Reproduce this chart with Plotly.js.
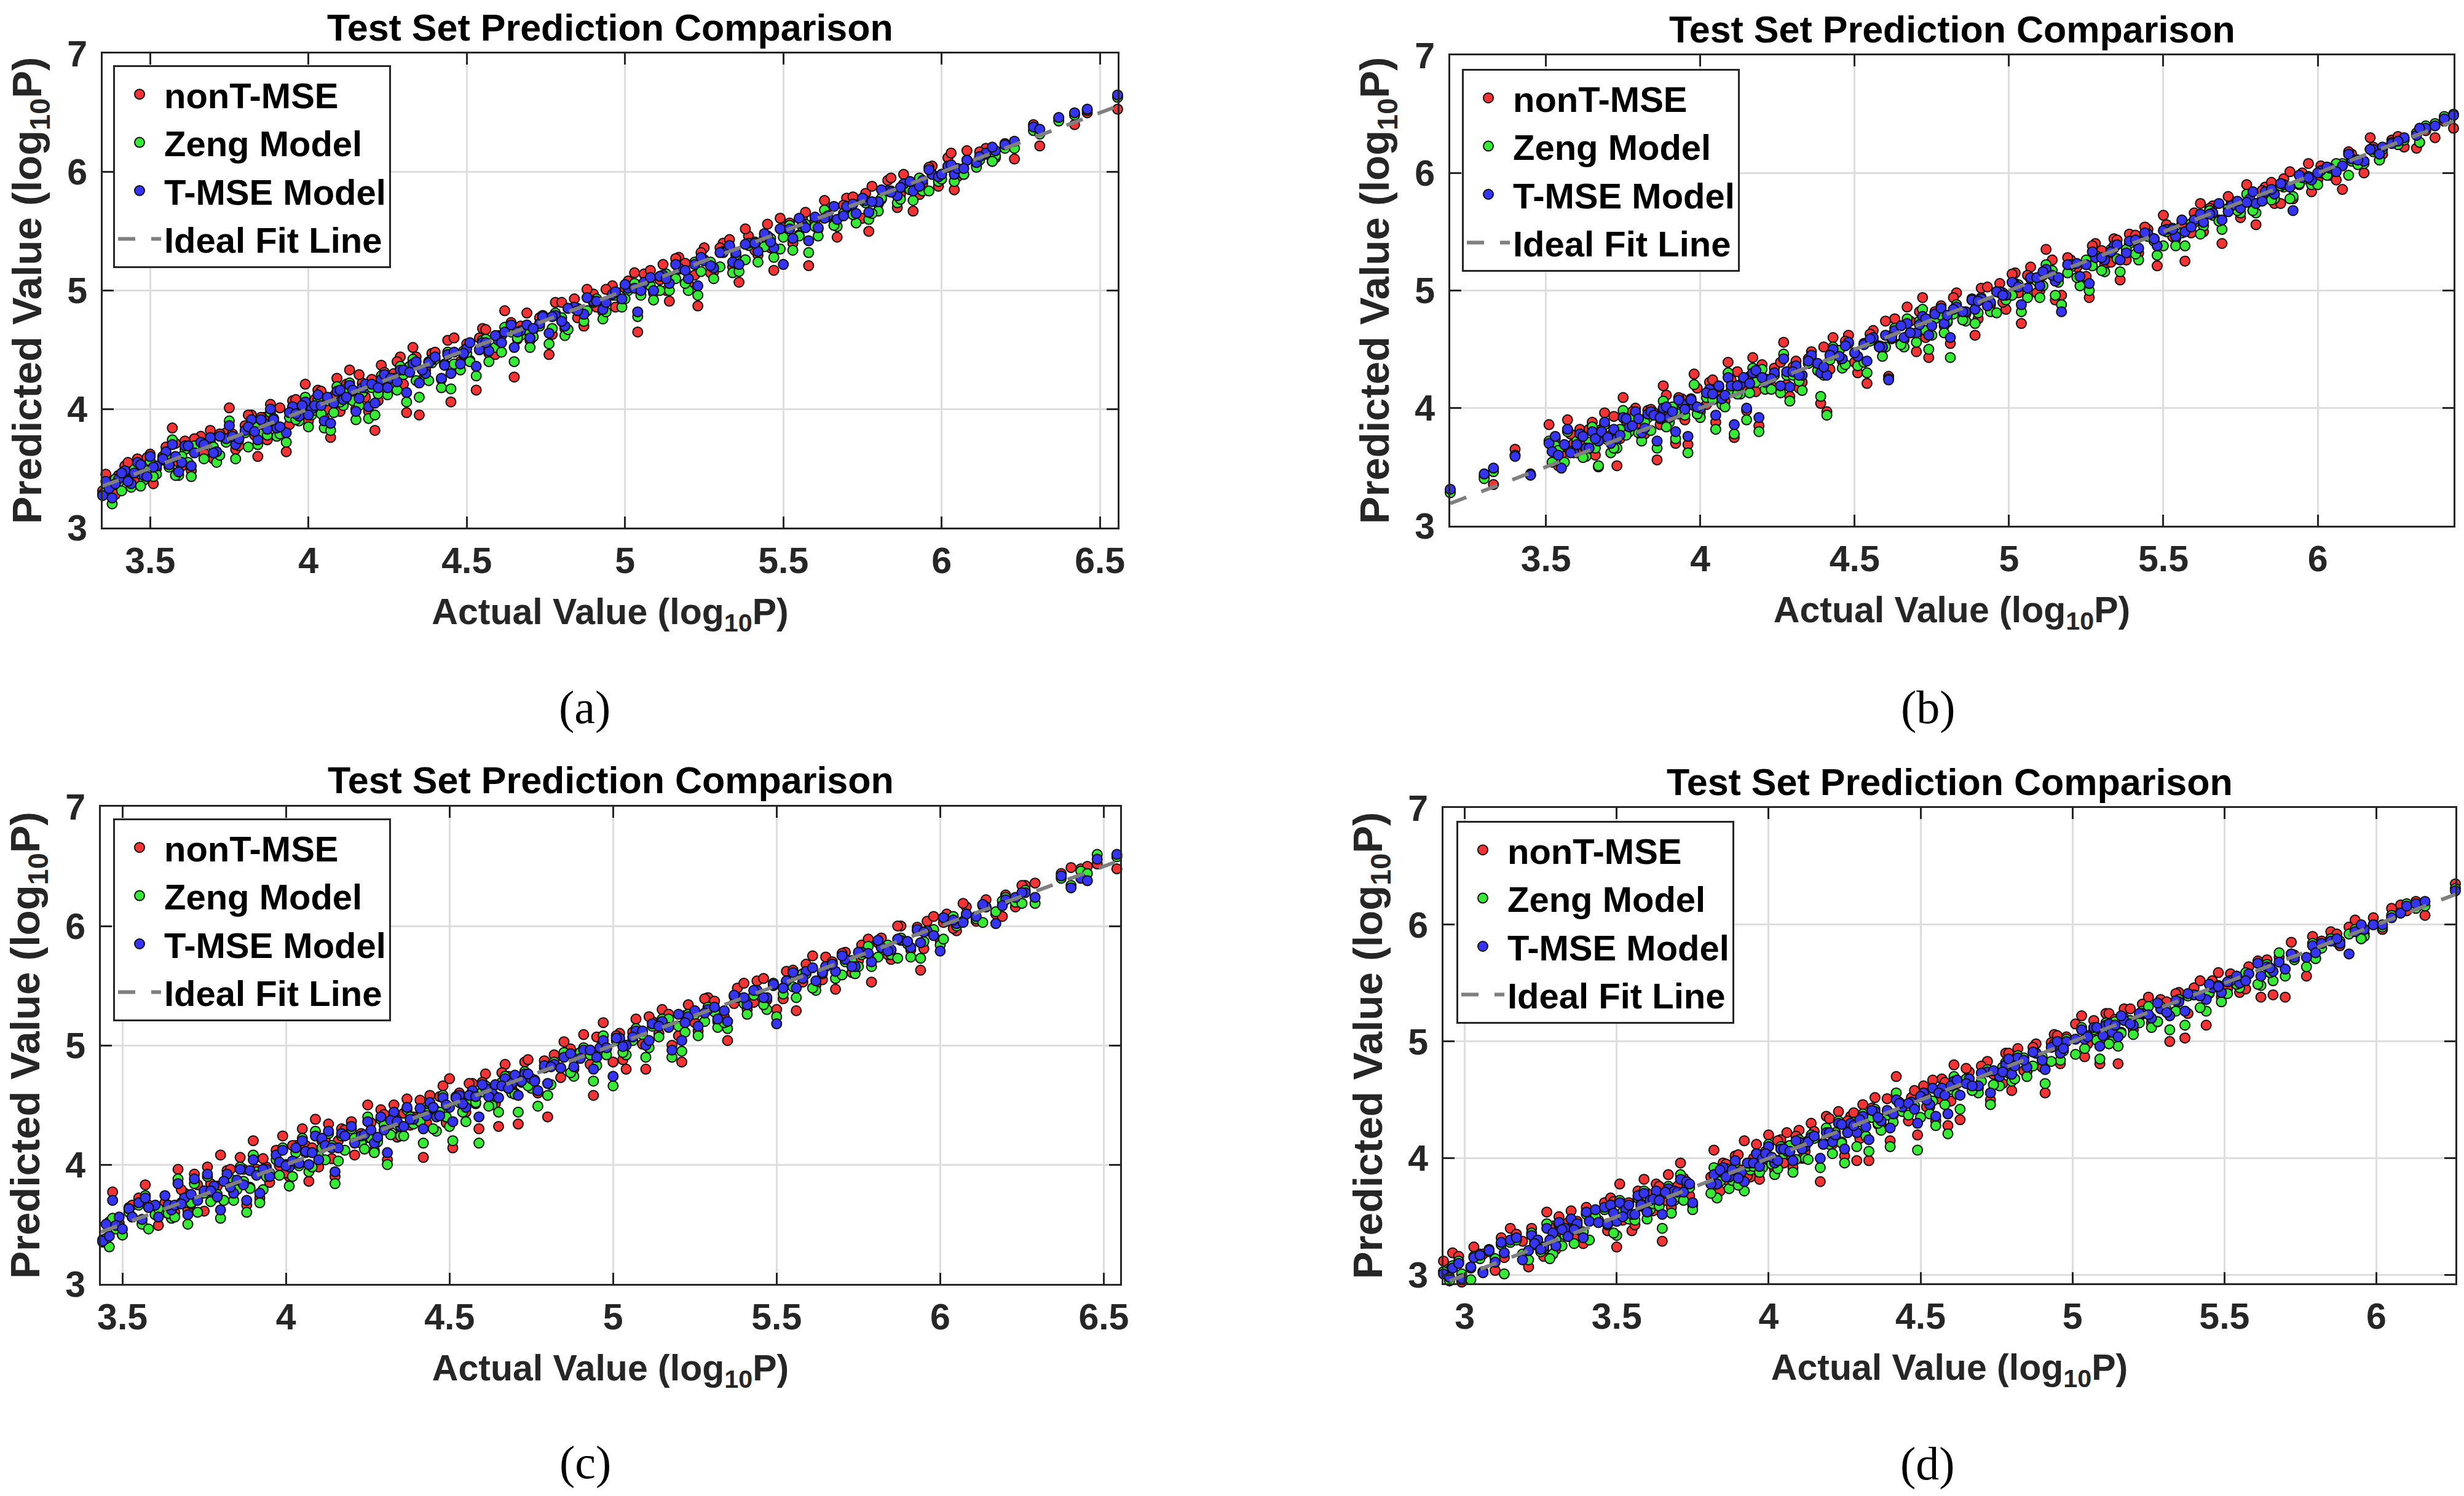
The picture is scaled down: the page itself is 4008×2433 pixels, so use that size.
<!DOCTYPE html>
<html>
<head>
<meta charset="utf-8">
<script src="https://cdn.plot.ly/plotly-3.0.1.min.js"></script>
<style>
  html, body { margin: 0; padding: 0; background: #fff; }
  #chart { width: 4008px; height: 2433px; }
</style>
</head>
<body>
<div id="chart"></div>
<script>
// Test set prediction comparison, four panels (a)-(d)
// actual log10P on x, each model's predicted log10P on y

// ---- panel (a) ----
const actualA = [
  3.35,3.37,3.38,3.40,3.42,3.44,3.46,3.48,3.50,3.52,
  3.55,3.57,3.59,3.61,3.63,3.66,3.69,3.71,3.74,3.75,
  3.77,3.80,3.82,3.84,3.86,3.88,3.90,3.93,3.95,3.97,
  3.99,4.01,4.03,4.05,4.07,4.09,4.11,4.13,4.15,4.17,
  4.19,4.21,4.23,4.25,4.27,4.29,4.31,4.33,4.35,4.37,
  4.39,4.42,4.44,4.45,4.48,4.50,4.53,4.55,4.57,4.60,
  4.62,4.65,4.67,4.70,4.73,4.76,4.78,4.81,4.84,4.87,
  4.90,4.93,4.96,4.99,5.01,5.04,5.06,5.09,5.12,5.14,
  5.17,5.20,5.23,5.25,5.28,5.31,5.34,5.36,5.39,5.42,
  5.45,5.47,5.50,5.53,5.56,5.58,5.61,5.64,5.67,5.70,
  5.73,5.76,5.77,5.80,5.83,5.86,5.88,5.91,5.94,5.97,
  5.99,6.02,6.04,6.05,6.08,6.11,6.14,6.17,6.20,6.23,
  6.29,6.31,6.37,6.42,6.46,6.556,
  // core of the band
  3.36,3.39,3.41,3.43,3.45,3.47,3.49,3.51,3.54,3.56,
  3.58,3.60,3.62,3.64,3.67,3.70,3.72,3.76,3.78,3.81,
  3.83,3.85,3.87,3.89,3.91,3.94,3.96,3.98,4.00,4.02,
  4.04,4.06,4.08,4.10,4.12,4.14,4.16,4.18,4.20,4.22,
  4.24,4.26,4.28,4.30,4.32,4.34,4.36,4.38,4.40,4.43,
  4.46,4.49,4.51,4.54,4.56,4.59,4.61,4.64,4.66,4.69,
  4.71,4.74,4.77,4.80,4.82,4.85,4.88,4.91,4.94,4.97,
  5.00,5.03,5.05,5.08,5.11,5.13,5.16,5.19,5.22,5.24,
  5.27,5.30,5.33,5.35,5.38,5.41,5.44,5.46,5.49,5.52,
  5.55,5.57,5.60,5.63,5.66,5.69,5.72,5.75,5.78,5.81,
  5.84,5.87,5.90,5.93,5.96,6.00,6.03,6.07,6.12,6.16
];
const nonTA = [
  3.31,3.40,3.27,3.44,3.52,3.39,3.58,3.47,3.62,3.50,
  3.68,3.84,3.55,3.73,3.48,3.77,3.82,3.62,3.80,4.01,
  3.66,3.86,3.95,3.60,3.93,4.04,3.85,3.64,4.07,3.96,
  4.21,4.02,4.16,3.92,3.76,4.26,4.10,4.33,4.00,4.22,
  3.98,3.82,4.37,4.20,4.30,4.44,3.97,4.52,3.95,4.33,
  4.47,4.25,4.58,4.06,4.40,4.55,4.16,4.68,4.47,4.62,
  4.83,4.27,4.70,4.58,4.77,4.46,4.90,4.68,4.93,4.70,
  4.97,4.82,5.04,4.92,5.08,4.65,5.14,4.98,5.22,4.91,
  5.28,5.06,4.87,5.36,5.16,5.40,5.20,5.07,5.46,5.30,
  5.56,5.17,5.53,5.40,5.61,5.21,5.52,5.70,5.45,5.78,
  5.62,5.82,5.50,5.73,5.93,5.70,5.98,5.67,5.90,6.05,
  5.88,6.12,5.85,5.96,6.18,6.06,6.20,6.12,6.24,6.11,
  6.40,6.22,6.45,6.40,6.50,6.53,
  3.45,3.28,3.45,3.55,3.39,3.49,3.59,3.37,3.60,3.53,
  3.71,3.52,3.67,3.75,3.63,3.58,3.79,3.79,3.69,3.95,
  3.78,3.93,3.74,3.90,4.01,3.87,4.08,3.96,3.90,4.08,
  4.15,4.00,4.11,3.98,4.21,4.10,4.29,4.10,4.25,4.07,
  4.31,4.25,4.40,4.21,4.36,4.44,4.25,4.40,4.48,4.37,
  4.60,4.46,4.41,4.60,4.67,4.46,4.62,4.73,4.59,4.81,
  4.67,4.79,4.63,4.90,4.85,4.77,5.01,4.86,5.01,4.86,
  5.02,5.15,4.99,5.17,5.09,5.00,5.27,5.23,5.13,5.32,
  5.15,5.36,5.43,5.32,5.52,5.34,5.45,5.36,5.61,5.57,
  5.47,5.66,5.59,5.76,5.55,5.72,5.79,5.61,5.88,5.77,
  5.95,5.81,5.92,5.81,6.04,5.98,6.16,5.98,6.17,6.09
];
const zengA = [
  3.28,3.36,3.20,3.38,3.47,3.34,3.51,3.40,3.56,3.45,
  3.61,3.74,3.44,3.66,3.43,3.70,3.73,3.55,3.72,3.90,
  3.58,3.80,3.88,3.70,3.84,3.97,3.77,3.72,4.00,3.90,
  4.10,3.95,4.08,3.84,3.82,4.19,4.03,4.22,3.91,4.14,
  3.92,3.95,4.28,4.12,4.23,4.36,4.06,4.42,4.10,4.26,
  4.39,4.18,4.48,4.17,4.33,4.47,4.28,4.58,4.40,4.55,
  4.69,4.40,4.62,4.52,4.70,4.55,4.81,4.62,4.85,4.74,
  4.90,4.76,4.96,4.86,5.00,4.78,5.06,4.92,5.12,5.00,
  5.18,5.00,4.96,5.26,5.10,5.33,5.15,5.16,5.38,5.24,
  5.46,5.28,5.45,5.34,5.54,5.32,5.46,5.62,5.54,5.70,
  5.57,5.74,5.60,5.67,5.84,5.74,5.89,5.76,5.84,5.98,
  5.92,6.04,5.92,6.00,6.10,6.04,6.15,6.14,6.20,6.20,
  6.35,6.32,6.43,6.48,6.52,6.63,
  3.30,3.41,3.31,3.40,3.49,3.35,3.48,3.43,3.57,3.51,
  3.44,3.60,3.55,3.69,3.58,3.68,3.61,3.77,3.74,3.68,
  3.85,3.79,3.78,3.92,3.79,3.93,3.91,4.02,3.85,3.99,
  3.96,4.07,3.97,4.06,4.17,4.07,4.03,4.18,4.18,4.13,
  4.27,4.20,4.16,4.29,4.36,4.24,4.33,4.24,4.42,4.38,
  4.38,4.49,4.40,4.50,4.59,4.52,4.48,4.65,4.60,4.67,
  4.61,4.78,4.68,4.77,4.67,4.85,4.83,4.93,4.82,4.96,
  4.93,5.06,4.96,5.04,5.00,5.14,5.10,5.06,5.24,5.16,
  5.24,5.20,5.37,5.30,5.26,5.41,5.37,5.44,5.35,5.55,
  5.46,5.56,5.54,5.68,5.55,5.65,5.64,5.76,5.65,5.78,
  5.84,5.77,5.85,5.95,5.84,5.94,6.06,5.98,6.10,6.09
];
const tmseA = [
  3.27,3.33,3.25,3.41,3.48,3.37,3.55,3.44,3.60,3.52,
  3.64,3.70,3.47,3.69,3.52,3.72,3.76,3.64,3.75,3.86,
  3.70,3.82,3.91,3.74,3.88,4.00,3.84,3.80,4.02,3.94,
  4.06,4.00,4.12,3.90,3.88,4.15,4.08,4.20,3.98,4.18,
  4.02,4.05,4.25,4.18,4.26,4.33,4.14,4.38,4.22,4.30,
  4.42,4.26,4.46,4.30,4.38,4.51,4.36,4.56,4.49,4.58,
  4.65,4.52,4.66,4.60,4.72,4.64,4.79,4.70,4.86,4.80,
  4.91,4.84,4.97,4.93,5.02,4.82,5.07,5.00,5.13,5.06,
  5.19,5.10,5.04,5.25,5.19,5.32,5.24,5.22,5.40,5.33,
  5.46,5.36,5.22,5.44,5.56,5.42,5.53,5.63,5.60,5.71,
  5.65,5.76,5.66,5.75,5.84,5.80,5.90,5.84,5.93,5.98,
  5.96,6.05,5.98,6.03,6.10,6.08,6.16,6.18,6.23,6.26,
  6.38,6.36,6.46,6.50,6.53,6.65,
  3.39,3.37,3.46,3.39,3.46,3.53,3.43,3.51,3.58,3.53,
  3.60,3.55,3.69,3.63,3.70,3.63,3.77,3.77,3.75,3.85,
  3.81,3.91,3.83,3.91,3.85,3.97,3.96,4.03,3.95,4.03,
  4.03,4.10,4.05,4.16,4.10,4.16,4.09,4.21,4.21,4.18,
  4.29,4.26,4.23,4.33,4.31,4.40,4.33,4.39,4.44,4.37,
  4.48,4.47,4.56,4.50,4.56,4.62,4.56,4.71,4.65,4.71,
  4.68,4.78,4.78,4.74,4.85,4.83,4.94,4.91,4.90,4.99,
  5.05,5.02,5.00,5.11,5.12,5.10,5.22,5.17,5.22,5.28,
  5.21,5.32,5.38,5.32,5.39,5.40,5.48,5.41,5.52,5.52,
  5.61,5.53,5.62,5.61,5.71,5.63,5.73,5.78,5.75,5.85,
  5.83,5.87,5.92,5.88,6.02,5.98,6.06,6.03,6.13,6.21
];
const idealA = [3.35, 6.556];

// ---- panel (b) ----
const actualB = [
  3.19,3.30,3.33,3.40,3.45,3.51,3.53,3.55,3.57,3.59,
  3.61,3.63,3.65,3.67,3.69,3.71,3.73,3.75,3.77,3.79,
  3.81,3.83,3.86,3.88,3.90,3.92,3.94,3.96,3.98,4.00,
  4.03,4.05,4.07,4.09,4.11,4.13,4.15,4.17,4.19,4.21,
  4.24,4.27,4.29,4.31,4.33,4.36,4.39,4.41,4.43,4.46,
  4.48,4.51,4.54,4.56,4.59,4.61,4.63,4.66,4.67,4.70,
  4.72,4.74,4.76,4.79,4.81,4.83,4.86,4.89,4.91,4.94,
  4.97,4.99,5.02,5.04,5.07,5.10,5.12,5.15,5.17,5.20,
  5.23,5.26,5.28,5.31,5.34,5.36,5.39,5.42,5.45,5.48,
  5.51,5.54,5.57,5.60,5.63,5.66,5.69,5.72,5.75,5.78,
  5.80,5.83,5.86,5.89,5.92,5.95,5.98,6.01,6.04,6.08,
  6.11,6.15,6.18,6.21,6.24,6.28,6.32,6.35,6.38,6.41,6.44,
  3.52,3.54,3.56,3.58,3.60,3.62,3.64,3.66,3.68,3.70,
  3.72,3.74,3.76,3.78,3.80,3.82,3.84,3.85,3.87,3.89,
  3.91,3.93,3.95,3.97,3.99,4.02,4.04,4.06,4.08,4.10,
  4.12,4.14,4.16,4.18,4.20,4.23,4.26,4.28,4.30,4.32,
  4.35,4.38,4.40,4.42,4.45,4.47,4.50,4.53,4.55,4.58,
  4.60,4.62,4.65,4.68,4.71,4.73,4.75,4.78,4.80,4.82,
  4.85,4.88,4.90,4.93,4.96,4.98,5.01,5.03,5.06,5.09,
  5.11,5.14,5.16,5.19,5.22,5.25,5.27,5.30,5.33,5.35,
  5.38,5.41,5.44,5.47,5.50,5.53,5.56,5.59,5.62,5.65,
  5.68,5.71,5.74,5.77,5.79,5.82,5.85,5.88,5.91,5.94,
  5.97,6.00,6.03,6.06,6.10,6.13,6.17,6.20,6.26,6.33
];
const nonTB = [
  3.30,3.42,3.35,3.65,3.44,3.86,3.74,3.60,3.90,3.70,
  3.82,3.67,3.88,3.50,3.96,3.77,3.51,4.09,3.88,4.00,
  3.76,3.98,3.56,4.19,3.95,3.70,4.08,3.69,4.29,3.97,
  4.22,3.88,4.10,4.39,3.75,4.18,3.98,4.43,3.85,4.25,
  4.34,4.56,4.10,4.40,4.22,4.48,4.04,3.97,4.60,4.40,
  4.62,4.30,4.21,4.66,4.50,4.27,4.76,4.58,4.86,4.48,
  4.94,4.43,4.82,4.70,4.55,4.98,4.80,4.62,5.02,4.88,
  5.06,4.84,5.15,4.72,5.20,5.00,5.35,4.92,4.96,5.26,
  5.10,4.94,5.40,5.22,5.44,5.09,5.48,5.32,5.52,5.21,
  5.56,5.44,5.25,5.66,5.50,5.72,5.40,5.76,5.62,5.84,
  5.56,5.88,5.74,5.95,5.78,6.00,5.84,6.06,5.98,5.86,
  6.16,6.00,6.22,6.16,6.28,6.22,6.21,6.36,6.30,6.44,6.38,
  3.69,3.51,3.68,3.78,3.62,3.72,3.82,3.60,3.82,3.75,
  3.93,3.74,3.89,3.97,3.84,3.78,3.99,3.96,3.86,4.11,
  3.94,4.09,3.90,4.06,4.17,4.03,4.24,4.12,4.06,4.24,
  4.31,4.16,4.27,4.14,4.37,4.19,4.39,4.20,4.35,4.17,
  4.42,4.37,4.52,4.33,4.49,4.57,4.39,4.55,4.63,4.52,
  4.74,4.59,4.55,4.74,4.82,4.60,4.76,4.87,4.73,4.94,
  4.81,4.93,4.76,5.03,4.99,4.90,5.14,4.98,5.13,4.98,
  5.13,5.26,5.10,5.28,5.20,5.12,5.38,5.34,5.24,5.43,
  5.26,5.47,5.54,5.44,5.64,5.46,5.57,5.49,5.74,5.70,
  5.60,5.80,5.73,5.90,5.68,5.85,5.92,5.74,6.01,5.90,
  6.08,5.94,6.05,5.94,6.18,6.11,6.30,6.11,6.31,6.26
];
const zengB = [
  3.28,3.40,3.46,3.60,3.43,3.72,3.68,3.52,3.80,3.64,
  3.76,3.59,3.84,3.51,3.86,3.62,3.66,3.98,3.80,3.94,
  3.72,3.92,3.66,4.06,3.88,3.74,4.02,3.62,4.20,3.92,
  4.14,3.82,4.03,4.30,3.78,4.12,3.90,4.34,3.80,4.16,
  4.28,4.46,4.06,4.34,4.15,4.42,4.10,3.94,4.52,4.34,
  4.55,4.36,4.30,4.58,4.44,4.25,4.68,4.52,4.76,4.56,
  4.84,4.50,4.76,4.64,4.43,4.88,4.74,4.72,4.94,4.82,
  4.98,4.92,5.06,4.82,5.10,4.94,5.22,4.96,4.88,5.20,
  5.04,5.00,5.30,5.16,5.36,5.16,5.40,5.26,5.46,5.30,
  5.50,5.38,5.38,5.58,5.55,5.64,5.52,5.70,5.66,5.76,
  5.66,5.82,5.78,5.88,5.80,5.94,5.90,6.00,6.02,6.08,
  6.10,6.08,6.18,6.20,6.26,6.28,6.34,6.40,6.42,6.48,6.50,
  3.54,3.64,3.54,3.63,3.72,3.58,3.71,3.66,3.79,3.73,
  3.66,3.82,3.77,3.91,3.79,3.88,3.81,3.94,3.91,3.84,
  4.01,3.95,3.94,4.08,3.95,4.09,4.07,4.18,4.01,4.15,
  4.12,4.23,4.13,4.22,4.33,4.16,4.13,4.28,4.28,4.23,
  4.38,4.32,4.28,4.41,4.49,4.37,4.47,4.39,4.57,4.53,
  4.52,4.62,4.54,4.64,4.74,4.66,4.62,4.79,4.74,4.80,
  4.75,4.92,4.81,4.90,4.81,4.98,4.96,5.05,4.94,5.08,
  5.04,5.17,5.07,5.15,5.11,5.26,5.21,5.17,5.35,5.27,
  5.35,5.31,5.48,5.42,5.38,5.53,5.49,5.57,5.48,5.68,
  5.59,5.70,5.68,5.82,5.68,5.78,5.77,5.89,5.78,5.91,
  5.97,5.90,5.98,6.08,5.98,6.07,6.20,6.11,6.24,6.26
];
const tmseB = [
  3.31,3.44,3.49,3.59,3.43,3.70,3.76,3.49,3.82,3.62,
  3.78,3.66,3.80,3.72,3.88,3.70,3.74,3.92,3.84,3.97,
  3.79,3.95,3.72,4.00,3.92,3.80,4.04,3.76,4.02,4.00,
  4.16,3.94,4.08,4.26,3.86,4.20,4.00,4.30,3.92,4.22,
  4.30,4.42,4.18,4.36,4.28,4.45,4.30,4.28,4.50,4.42,
  4.56,4.44,4.40,4.60,4.52,4.24,4.66,4.60,4.72,4.64,
  4.78,4.62,4.80,4.72,4.60,4.86,4.82,4.84,4.93,4.90,
  4.99,4.96,5.05,4.88,5.11,5.04,5.18,5.08,4.82,5.22,
  5.12,5.06,5.28,5.26,5.38,5.26,5.42,5.36,5.48,5.38,
  5.52,5.46,5.50,5.60,5.58,5.66,5.60,5.72,5.70,5.78,
  5.74,5.84,5.82,5.90,5.68,5.96,5.94,6.02,6.04,6.06,
  6.12,6.10,6.20,6.22,6.25,6.30,6.32,6.38,6.40,6.46,6.49,
  3.63,3.60,3.69,3.62,3.69,3.76,3.66,3.74,3.80,3.75,
  3.82,3.77,3.91,3.85,3.91,3.83,3.97,3.94,3.92,4.01,
  3.97,4.07,3.99,4.07,4.01,4.13,4.12,4.19,4.11,4.19,
  4.19,4.26,4.21,4.32,4.26,4.25,4.19,4.31,4.31,4.28,
  4.40,4.38,4.35,4.45,4.44,4.53,4.47,4.54,4.59,4.52,
  4.62,4.60,4.70,4.64,4.71,4.76,4.70,4.85,4.79,4.84,
  4.82,4.92,4.91,4.87,4.99,4.96,5.07,5.03,5.02,5.11,
  5.16,5.13,5.11,5.22,5.23,5.22,5.33,5.28,5.33,5.39,
  5.32,5.43,5.49,5.44,5.51,5.52,5.60,5.54,5.65,5.65,
  5.74,5.67,5.76,5.75,5.84,5.76,5.86,5.91,5.88,5.98,
  5.96,6.00,6.05,6.01,6.16,6.11,6.20,6.16,6.27,6.38
];
const idealB = [3.19, 6.44];

// ---- panel (c) ----
const actualC = [
  3.44,3.46,3.47,3.49,3.52,3.55,3.57,3.60,3.63,3.65,
  3.67,3.69,3.70,3.72,3.76,3.78,3.80,3.82,3.84,3.86,
  3.88,3.90,3.92,3.94,3.97,3.99,4.01,4.03,4.05,4.07,
  4.09,4.11,4.13,4.15,4.17,4.20,4.23,4.25,4.27,4.29,
  4.31,4.33,4.35,4.37,4.39,4.42,4.44,4.46,4.48,4.50,
  4.51,4.53,4.55,4.57,4.59,4.61,4.63,4.65,4.67,4.69,
  4.71,4.73,4.75,4.77,4.80,4.82,4.85,4.88,4.91,4.94,
  4.96,4.97,5.00,5.02,5.04,5.07,5.10,5.12,5.15,5.18,
  5.21,5.23,5.26,5.29,5.32,5.35,5.38,5.41,5.44,5.47,
  5.50,5.53,5.56,5.59,5.62,5.65,5.68,5.71,5.74,5.76,
  5.79,5.82,5.85,5.88,5.91,5.94,5.96,6.00,6.02,6.05,
  6.08,6.11,6.14,6.17,6.20,6.23,6.26,6.29,6.37,6.40,
  6.43,6.45,6.48,6.54,
  3.45,3.48,3.50,3.53,3.56,3.58,3.61,3.64,3.66,3.68,
  3.71,3.73,3.75,3.77,3.79,3.81,3.83,3.85,3.87,3.89,
  3.91,3.93,3.95,3.98,4.00,4.02,4.04,4.06,4.08,4.10,
  4.12,4.14,4.16,4.18,4.21,4.24,4.26,4.28,4.30,4.32,
  4.34,4.36,4.38,4.41,4.43,4.45,4.47,4.49,4.52,4.54,
  4.56,4.58,4.60,4.62,4.64,4.66,4.68,4.70,4.72,4.74,
  4.76,4.79,4.81,4.84,4.87,4.90,4.93,4.95,4.98,5.01,
  5.03,5.06,5.09,5.11,5.14,5.17,5.20,5.22,5.25,5.28,
  5.31,5.34,5.37,5.40,5.43,5.46,5.49,5.52,5.55,5.58,
  5.61,5.64,5.67,5.70,5.73,5.75,5.78,5.81,5.84,5.87,
  5.90,5.93,5.95,5.98,6.01,6.04,6.07,6.13,6.19,6.25
];
const nonTC = [
  3.37,3.52,3.77,3.51,3.64,3.72,3.83,3.62,3.68,3.58,
  3.96,3.76,3.62,3.92,3.98,3.80,4.08,3.95,3.78,4.06,
  3.66,4.20,3.72,3.98,4.12,4.24,3.90,4.16,4.30,3.86,
  4.38,4.20,4.34,3.90,4.30,4.36,4.26,4.50,4.12,4.46,
  4.04,4.50,4.30,4.55,4.40,4.06,4.58,4.45,4.66,4.72,
  4.14,4.60,4.44,4.68,4.30,4.76,4.58,4.32,4.84,4.66,
  4.34,4.86,4.70,4.60,4.40,4.92,5.03,4.80,5.09,4.58,
  5.06,5.19,4.86,5.10,4.80,5.22,4.80,5.20,5.30,5.00,
  4.86,5.34,5.12,5.40,5.20,5.04,5.48,5.30,5.54,5.38,
  5.30,5.62,5.29,5.68,5.50,5.74,5.47,5.78,5.64,5.84,
  5.53,5.90,5.72,6.00,5.80,5.63,6.04,5.88,6.10,5.96,
  6.16,6.04,6.22,6.10,6.26,6.16,6.34,6.36,6.44,6.49,
  6.48,6.50,6.52,6.48,
  3.38,3.53,3.41,3.66,3.54,3.66,3.49,3.66,3.60,3.79,
  3.67,3.83,3.61,3.84,3.82,3.70,3.96,3.84,3.96,3.81,
  3.96,4.05,3.85,3.99,3.93,4.16,4.01,4.16,4.14,3.98,
  4.20,4.05,4.20,4.29,4.08,4.22,4.35,4.22,4.42,4.34,
  4.23,4.43,4.33,4.54,4.35,4.48,4.57,4.35,4.57,4.50,
  4.68,4.51,4.69,4.63,4.51,4.77,4.74,4.60,4.69,4.88,
  4.70,4.87,4.83,4.73,4.97,4.94,4.84,5.07,4.97,5.08,
  4.88,5.11,5.01,5.24,5.10,5.26,5.08,5.25,5.19,5.39,
  5.37,5.24,5.35,5.52,5.36,5.56,5.50,5.39,5.63,5.53,
  5.75,5.55,5.70,5.77,5.61,5.71,5.89,5.86,5.76,6.00,
  5.87,5.99,5.81,6.08,6.03,5.98,6.19,6.17,6.08,6.34
];
const zengC = [
  3.35,3.31,3.55,3.48,3.60,3.66,3.74,3.58,3.60,3.55,
  3.88,3.68,3.50,3.84,3.90,3.72,3.55,3.86,3.70,3.98,
  3.60,4.08,3.68,3.90,4.04,4.14,3.82,4.10,4.22,3.94,
  4.28,4.14,4.26,3.84,4.24,4.30,4.18,4.40,4.10,4.38,
  4.00,4.42,4.24,4.46,4.34,4.18,4.50,4.28,4.58,4.32,
  4.20,4.52,4.36,4.60,4.18,4.66,4.50,4.44,4.74,4.60,
  4.44,4.78,4.64,4.49,4.58,4.86,4.94,4.74,4.98,4.70,
  4.96,5.08,4.66,5.04,4.92,5.14,4.90,5.16,5.22,4.90,
  4.95,5.26,5.08,5.32,5.15,5.14,5.40,5.26,5.46,5.30,
  5.24,5.54,5.40,5.60,5.46,5.66,5.56,5.70,5.60,5.76,
  5.66,5.82,5.76,5.90,5.74,5.73,5.96,5.84,6.04,6.00,
  6.10,6.06,6.16,6.12,6.24,6.20,6.30,6.19,6.40,6.34,
  6.46,6.44,6.60,6.58,
  3.38,3.46,3.41,3.56,3.50,3.46,3.63,3.59,3.56,3.68,
  3.68,3.60,3.76,3.69,3.75,3.70,3.88,3.79,3.86,3.80,
  3.94,3.79,3.93,3.91,4.00,3.90,3.99,4.10,3.98,4.07,
  4.04,4.16,4.03,4.12,4.22,4.13,4.22,4.19,4.33,4.25,
  4.33,4.24,4.40,4.36,4.43,4.30,4.44,4.40,4.56,4.44,
  4.54,4.52,4.61,4.49,4.57,4.69,4.64,4.59,4.72,4.66,
  4.71,4.81,4.67,4.81,4.77,4.94,4.92,4.83,4.92,5.04,
  4.94,5.04,5.09,4.98,5.07,5.22,5.16,5.11,5.26,5.20,
  5.28,5.19,5.41,5.35,5.42,5.34,5.52,5.43,5.49,5.60,
  5.48,5.60,5.68,5.59,5.71,5.66,5.83,5.74,5.84,5.73,
  5.85,5.96,5.87,5.97,5.89,6.08,6.04,6.03,6.21,6.19
];
const tmseC = [
  3.36,3.40,3.70,3.56,3.63,3.68,3.72,3.66,3.74,3.62,
  3.84,3.72,3.58,3.88,3.92,3.82,3.62,3.92,3.76,3.96,
  3.70,4.04,3.76,3.96,4.08,4.12,3.98,4.14,4.20,4.00,
  4.24,4.22,4.28,3.94,4.26,4.32,4.24,4.36,4.18,4.40,
  4.10,4.44,4.32,4.48,4.38,4.30,4.52,4.40,4.56,4.48,
  4.36,4.58,4.48,4.62,4.40,4.64,4.60,4.56,4.72,4.68,
  4.58,4.76,4.72,4.62,4.68,4.84,4.90,4.82,4.96,4.80,
  4.98,5.04,4.74,5.06,5.00,5.12,5.00,5.18,5.20,4.96,
  5.04,5.24,5.16,5.30,5.22,5.20,5.40,5.34,5.46,5.40,
  5.18,5.54,5.48,5.62,5.54,5.66,5.62,5.72,5.66,5.78,
  5.70,5.82,5.80,5.88,5.82,5.86,5.96,5.79,6.04,6.02,
  6.10,6.08,6.16,6.02,6.22,6.24,6.28,6.24,6.42,6.32,
  6.40,6.38,6.56,6.60,
  3.50,3.49,3.46,3.56,3.54,3.64,3.56,3.66,3.66,3.67,
  3.75,3.70,3.78,3.78,3.73,3.86,3.81,3.87,3.83,3.95,
  3.91,3.96,3.90,4.02,3.99,4.03,4.01,4.11,4.10,4.04,
  4.16,4.14,4.14,4.24,4.18,4.25,4.29,4.23,4.29,4.37,
  4.36,4.32,4.38,4.47,4.41,4.48,4.41,4.50,4.56,4.51,
  4.58,4.57,4.67,4.57,4.67,4.66,4.64,4.75,4.70,4.76,
  4.70,4.83,4.82,4.81,4.93,4.89,4.96,4.90,4.98,5.06,
  4.99,5.07,5.12,5.04,5.16,5.15,5.26,5.19,5.29,5.27,
  5.32,5.29,5.42,5.40,5.46,5.40,5.51,5.48,5.61,5.56,
  5.65,5.61,5.68,5.75,5.66,5.78,5.77,5.88,5.79,5.89,
  5.87,5.97,5.95,5.92,6.07,6.05,6.03,6.18,6.17,6.28
];
const idealC = [3.434, 6.55];

// ---- panel (d) ----
const actualD = [
  2.93,2.96,2.98,3.03,3.05,3.08,3.12,3.15,3.17,3.22,
  3.24,3.26,3.27,3.29,3.31,3.33,3.35,3.37,3.40,3.43,
  3.46,3.48,3.50,3.51,3.53,3.55,3.57,3.59,3.61,3.63,
  3.65,3.67,3.69,3.71,3.73,3.75,3.82,3.83,3.85,3.87,
  3.89,3.91,3.92,3.94,3.96,3.98,4.00,4.02,4.04,4.06,
  4.08,4.10,4.12,4.14,4.17,4.19,4.21,4.23,4.25,4.27,
  4.29,4.31,4.33,4.35,4.37,4.40,4.42,4.44,4.47,4.49,
  4.51,4.53,4.55,4.57,4.59,4.61,4.63,4.66,4.69,4.72,
  4.73,4.76,4.78,4.80,4.82,4.85,4.88,4.91,4.94,4.96,
  4.98,5.03,5.04,5.07,5.09,5.11,5.13,5.15,5.17,5.20,
  5.23,5.26,5.29,5.32,5.35,5.37,5.40,5.44,5.46,5.49,
  5.52,5.55,5.58,5.62,5.64,5.66,5.68,5.70,5.73,5.77,
  5.79,5.82,5.85,5.88,5.91,5.93,5.96,5.99,6.02,6.05,
  6.08,6.10,6.13,6.16,6.26,
  2.95,2.99,3.02,3.06,3.10,3.13,3.19,3.21,3.23,3.25,
  3.28,3.30,3.32,3.34,3.36,3.39,3.41,3.44,3.47,3.49,
  3.52,3.54,3.56,3.58,3.60,3.62,3.64,3.66,3.68,3.70,
  3.72,3.74,3.81,3.84,3.86,3.88,3.90,3.93,3.95,3.97,
  3.99,4.01,4.03,4.05,4.07,4.09,4.11,4.13,4.15,4.18,
  4.20,4.22,4.24,4.26,4.28,4.30,4.32,4.34,4.36,4.39,
  4.41,4.43,4.46,4.48,4.50,4.52,4.54,4.56,4.58,4.60,
  4.62,4.65,4.67,4.70,4.74,4.77,4.79,4.81,4.84,4.87,
  4.90,4.93,4.95,4.97,5.01,5.05,5.08,5.10,5.12,5.14,
  5.16,5.19,5.22,5.25,5.28,5.31,5.34,5.38,5.42,5.45,
  5.48,5.51,5.54,5.57,5.61,5.65,5.72,5.80,5.87,5.95
];
const nonTD = [
  3.12,3.19,3.16,3.24,3.18,3.22,3.32,3.40,3.35,3.40,
  3.30,3.16,3.54,3.42,3.50,3.38,3.55,3.46,3.58,3.47,
  3.62,3.66,3.24,3.78,3.55,3.38,3.72,3.82,3.62,3.78,
  3.29,3.86,3.70,3.96,3.78,3.60,4.07,3.72,3.96,3.80,
  4.02,3.90,4.15,3.84,4.12,3.98,4.20,3.90,4.16,4.22,
  3.92,4.24,4.06,4.30,3.80,4.36,4.12,4.40,4.02,4.36,
  3.98,4.46,3.98,4.52,4.30,4.15,4.70,4.46,4.52,4.20,
  4.62,4.44,4.32,4.68,4.28,4.80,4.33,4.74,4.60,4.83,
  4.50,4.66,4.90,4.58,4.94,4.74,4.98,4.56,5.06,4.81,
  5.04,5.22,4.87,5.18,4.81,5.24,5.06,4.81,5.28,5.10,
  5.32,5.16,5.36,5.00,5.42,5.03,5.46,5.14,5.52,5.38,
  5.58,5.42,5.64,5.38,5.70,5.40,5.72,5.38,5.74,5.56,
  5.90,5.86,5.94,5.82,5.98,6.04,5.92,6.06,5.96,6.14,
  6.17,6.12,6.20,6.08,6.35,
  3.04,2.94,3.06,3.18,3.04,3.15,3.29,3.07,3.29,3.22,
  3.41,3.22,3.37,3.45,3.32,3.27,3.48,3.47,3.38,3.63,
  3.47,3.62,3.43,3.59,3.70,3.55,3.76,3.64,3.58,3.76,
  3.83,3.68,3.84,3.72,3.95,3.84,4.03,3.85,4.00,3.82,
  4.06,4.00,4.15,3.96,4.11,4.19,4.00,4.15,4.23,4.12,
  4.34,4.19,4.14,4.32,4.39,4.17,4.33,4.43,4.29,4.51,
  4.37,4.48,4.32,4.58,4.53,4.44,4.67,4.51,4.65,4.49,
  4.64,4.77,4.61,4.79,4.72,4.64,4.90,4.85,4.75,4.95,
  4.78,4.99,5.05,4.94,5.15,4.98,5.09,5.00,5.24,5.19,
  5.08,5.28,5.21,5.38,5.17,5.34,5.41,5.24,5.52,5.41,
  5.59,5.45,5.56,5.45,5.69,5.63,5.85,5.71,5.92,5.88
];
const zengD = [
  3.03,3.08,3.12,3.16,3.14,3.20,3.26,3.28,3.30,3.36,
  3.26,3.22,3.44,3.18,3.44,3.34,3.48,3.42,3.52,3.50,
  3.56,3.58,3.34,3.64,3.50,3.48,3.66,3.72,3.56,3.70,
  3.40,3.76,3.64,3.86,3.74,3.56,3.92,3.66,3.88,3.74,
  3.96,3.82,3.72,3.90,4.04,3.92,4.12,3.86,4.10,4.04,
  3.88,4.16,4.00,4.20,3.92,4.26,4.04,4.32,3.96,4.28,
  4.10,4.38,4.06,4.42,4.24,4.10,4.56,4.40,4.48,4.07,
  4.56,4.38,4.28,4.60,4.21,4.70,4.42,4.68,4.56,4.76,
  4.46,4.62,4.82,4.66,4.88,4.70,4.90,4.64,4.98,4.84,
  5.02,5.12,4.94,5.10,4.85,5.16,5.00,4.96,5.20,5.06,
  5.26,5.12,5.30,5.10,5.36,5.14,5.40,5.26,5.46,5.34,
  5.52,5.46,5.58,5.48,5.66,5.52,5.76,5.56,5.70,5.64,
  5.84,5.80,5.88,5.86,5.92,5.96,5.90,6.00,5.98,6.08,
  6.10,6.18,6.14,6.16,6.31,
  2.95,3.01,2.96,3.03,3.14,3.01,3.18,3.13,3.26,3.20,
  3.14,3.30,3.25,3.39,3.27,3.37,3.30,3.45,3.43,3.36,
  3.54,3.48,3.47,3.61,3.48,3.61,3.59,3.70,3.53,3.67,
  3.64,3.75,3.70,3.80,3.91,3.81,3.77,3.93,3.93,3.88,
  4.02,3.95,3.91,4.04,4.11,3.99,4.08,3.99,4.17,4.13,
  4.12,4.22,4.13,4.22,4.31,4.23,4.19,4.35,4.30,4.37,
  4.31,4.47,4.37,4.45,4.35,4.52,4.49,4.58,4.46,4.59,
  4.55,4.68,4.58,4.66,4.63,4.78,4.73,4.68,4.86,4.79,
  4.87,4.83,4.99,4.92,4.89,5.05,5.01,5.08,4.98,5.17,
  5.07,5.18,5.16,5.30,5.17,5.27,5.26,5.39,5.29,5.42,
  5.48,5.41,5.49,5.59,5.49,5.59,5.75,5.71,5.85,5.88
];
const tmseD = [
  3.01,3.06,3.10,3.15,3.17,3.21,3.28,3.30,3.32,3.34,
  3.30,3.24,3.40,3.36,3.45,3.40,3.48,3.44,3.54,3.56,
  3.58,3.60,3.46,3.62,3.56,3.52,3.68,3.70,3.64,3.72,
  3.52,3.74,3.72,3.82,3.80,3.62,3.86,3.78,3.92,3.84,
  3.98,3.88,3.80,3.96,4.04,4.00,4.10,3.96,4.08,4.06,
  3.98,4.14,4.10,4.18,4.00,4.22,4.14,4.30,4.08,4.30,
  4.22,4.36,4.16,4.40,4.32,4.26,4.50,4.44,4.48,4.30,
  4.56,4.46,4.36,4.60,4.38,4.66,4.54,4.68,4.62,4.74,
  4.56,4.70,4.80,4.72,4.86,4.78,4.90,4.76,4.96,4.90,
  5.00,5.10,5.02,5.12,4.96,5.14,5.08,5.04,5.18,5.14,
  5.24,5.20,5.28,5.22,5.34,5.26,5.40,5.36,5.46,5.42,
  5.52,5.50,5.58,5.56,5.64,5.60,5.68,5.62,5.72,5.72,
  5.82,5.84,5.86,5.84,5.75,5.94,5.96,6.00,6.00,6.06,
  6.10,6.16,6.18,6.20,6.29,
  2.98,2.97,3.07,3.02,3.11,3.19,3.13,3.21,3.27,3.22,
  3.30,3.25,3.39,3.33,3.39,3.32,3.46,3.45,3.44,3.53,
  3.50,3.60,3.52,3.60,3.54,3.65,3.64,3.71,3.63,3.71,
  3.71,3.78,3.78,3.90,3.84,3.90,3.83,3.96,3.96,3.93,
  4.04,4.01,3.98,4.08,4.06,4.15,4.08,4.14,4.19,4.12,
  4.22,4.20,4.29,4.22,4.28,4.33,4.27,4.41,4.35,4.41,
  4.38,4.47,4.47,4.42,4.53,4.50,4.60,4.56,4.54,4.62,
  4.67,4.64,4.62,4.73,4.75,4.74,4.85,4.79,4.84,4.91,
  4.84,4.95,5.00,4.94,5.02,5.04,5.12,5.05,5.15,5.14,
  5.22,5.15,5.24,5.23,5.33,5.25,5.35,5.41,5.39,5.49,
  5.47,5.51,5.56,5.52,5.67,5.63,5.75,5.76,5.88,6.00
];
const idealD = [2.95, 6.26];

// ---- ticks ----
const xTicksA = [3.5, 4, 4.5, 5, 5.5, 6, 6.5];
const xTickTextA = ["3.5", "4", "4.5", "5", "5.5", "6", "6.5"];
const xTicksB = [3.5, 4, 4.5, 5, 5.5, 6];
const xTickTextB = ["3.5", "4", "4.5", "5", "5.5", "6"];
const xTicksD = [3, 3.5, 4, 4.5, 5, 5.5, 6];
const xTickTextD = ["3", "3.5", "4", "4.5", "5", "5.5", "6"];
const yTicks = [3, 4, 5, 6, 7];
const yTickText = ["3", "4", "5", "6", "7"];

const seriesNames = ["nonT-MSE", "Zeng Model", "T-MSE Model", "Ideal Fit Line"];
const panelTitle = "Test Set Prediction Comparison";
const captions = ["(a)", "(b)", "(c)", "(d)"];

(function () {

  const dom = document.getElementById("chart");

  const C = {
    red: "#f43434",
    green: "#36ea36",
    blue: "#3434f2",
    ideal: "#7f7f7f",
    axis: "#262626",
    grid: "#dedede"
  };

  const FONT = "Liberation Sans, Arial, Helvetica, sans-serif";

  function panelTraces(n, actual, nonT, zeng, tmse, ideal) {
    const sfx = n === 1 ? "" : String(n);
    const base = {
      xaxis: "x" + sfx,
      yaxis: "y" + sfx,
      legend: "legend" + sfx,
      cliponaxis: false,
      hoverinfo: "x+y+name"
    };
    const mk = (color) => ({ size: 16, color: color, line: { color: "#111", width: 2 } });
    return [
      Object.assign({ x: actual, y: nonT, mode: "markers", name: seriesNames[0], marker: mk(C.red) }, base),
      Object.assign({ x: actual, y: zeng, mode: "markers", name: seriesNames[1], marker: mk(C.green) }, base),
      Object.assign({ x: actual, y: tmse, mode: "markers", name: seriesNames[2], marker: mk(C.blue) }, base),
      Object.assign({
        x: ideal, y: ideal, mode: "lines", name: seriesNames[3],
        line: { color: C.ideal, width: 6, dash: "28px,26px" }
      }, base)
    ];
  }

  const traces = [].concat(
    panelTraces(1, actualA, nonTA, zengA, tmseA, idealA),
    panelTraces(2, actualB, nonTB, zengB, tmseB, idealB),
    panelTraces(3, actualC, nonTC, zengC, tmseC, idealC),
    panelTraces(4, actualD, nonTD, zengD, tmseD, idealD)
  );

  const W = 4008, H = 2433;
  const px = (v) => v / W;
  const py = (v) => 1 - v / H;

  const common = {
    showline: true,
    linecolor: C.axis,
    linewidth: 3,
    mirror: "ticks",
    ticks: "inside",
    ticklen: 18,
    tickwidth: 3,
    tickcolor: C.axis,
    showgrid: true,
    gridcolor: C.grid,
    gridwidth: 3,
    zeroline: false,
    tickfont: { family: FONT, size: 59, color: C.axis, weight: "bold" }
  };

  function xAxis(left, right, range, tv, tt, anchor) {
    return Object.assign({}, common, {
      domain: [px(left), px(right)],
      range: range,
      anchor: anchor,
      tickmode: "array",
      tickvals: tv,
      ticktext: tt,
      ticklabelstandoff: 0,
      title: {
        text: "Actual Value (log<sub>10</sub>P)",
        font: { family: FONT, size: 59, color: C.axis, weight: "bold" },
        standoff: 30
      }
    });
  }

  function yAxis(top, bottom, range, anchor) {
    return Object.assign({}, common, {
      domain: [py(bottom), py(top)],
      range: range,
      anchor: anchor,
      tickmode: "array",
      tickvals: yTicks,
      ticktext: yTickText,
      ticklabelstandoff: 10,
      title: {
        text: "Predicted Value (log<sub>10</sub>P)",
        font: { family: FONT, size: 67, color: C.axis, weight: "bold" },
        standoff: 20
      }
    });
  }

  function legendAt(left, top) {
    return {
      x: px(left), y: py(top),
      xanchor: "left", yanchor: "top",
      bgcolor: "#ffffff",
      bordercolor: C.axis,
      borderwidth: 3,
      font: { family: FONT, size: 58, color: "#000", weight: "bold" },
      tracegroupgap: 0,
      itemwidth: 70
    };
  }

  function titleAnn(cx, baseline) {
    return {
      xref: "paper", yref: "paper",
      x: px(cx), y: py(baseline + 14),
      xanchor: "center", yanchor: "bottom",
      text: panelTitle, showarrow: false,
      font: { family: FONT, size: 61, color: "#000", weight: "bold" }
    };
  }

  function captionAnn(cx, cy, text) {
    return {
      xref: "paper", yref: "paper",
      x: px(cx), y: py(cy),
      xanchor: "center", yanchor: "middle",
      text: text, showarrow: false,
      font: { family: "Liberation Serif, Times New Roman, serif", size: 76, color: "#000" }
    };
  }

  const layout = {
    width: W,
    height: H,
    margin: { l: 0, r: 0, t: 0, b: 0 },
    paper_bgcolor: "#ffffff",
    plot_bgcolor: "#ffffff",
    font: { family: FONT, color: C.axis },
    xaxis:  xAxis(167, 1818, [3.35, 6.556], xTicksA, xTickTextA, "y"),
    yaxis:  yAxis(87, 858, [3, 7], "x"),
    xaxis2: xAxis(2359, 3991, [3.19, 6.44], xTicksB, xTickTextB, "y2"),
    yaxis2: yAxis(90, 855, [3, 7], "x2"),
    xaxis3: xAxis(164, 1822, [3.434, 6.55], xTicksA, xTickTextA, "y3"),
    yaxis3: yAxis(1312, 2088, [3, 7], "x3"),
    xaxis4: xAxis(2348, 3994, [2.93, 6.26], xTicksD, xTickTextD, "y4"),
    yaxis4: yAxis(1314, 2087, [2.93, 7], "x4"),
    legend:  legendAt(184, 106),
    legend2: legendAt(2378, 112),
    legend3: legendAt(184, 1331),
    legend4: legendAt(2369, 1335),
    annotations: [
      titleAnn(992, 67),
      titleAnn(3175, 70),
      titleAnn(993, 1291),
      titleAnn(3171, 1294),
      captionAnn(951, 1150, captions[0]),
      captionAnn(3136, 1150, captions[1]),
      captionAnn(952, 2378, captions[2]),
      captionAnn(3135, 2380, captions[3])
    ]
  };

  Plotly.newPlot(dom, traces, layout, { displayModeBar: false, responsive: false });

})();
</script>
</body>
</html>
